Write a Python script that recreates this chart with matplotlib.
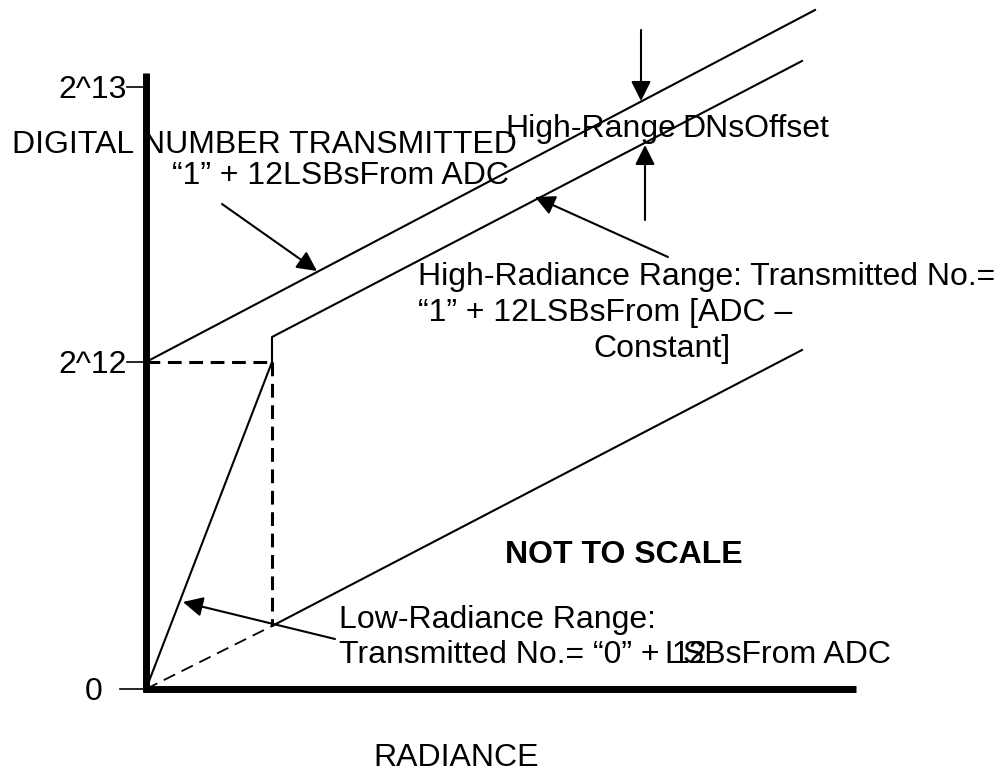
import matplotlib
matplotlib.use("Agg")
import matplotlib.pyplot as plt

# diagram units: pixels measured from the axis corner (x right, y up)
axis_top = 616
axis_right = 710
y_ticks = [0, 327, 602]
y_tick_start = [-26, -19, -19]
y_tick_labels = ["0", "2^12", "2^13"]

# "1" + 12 LSBs from ADC (top line)
upper_x = [0, 669]
upper_y = [327, 679]
# high radiance range: jump at the knee then "ADC - constant"
high_x = [126, 126, 656]
high_y = [327, 352, 628]
# low radiance range (steep)
low_x = [0, 126]
low_y = [0, 327]
# "0" + 12 LSBs from ADC (bottom line), dashed part then solid
base_dash_x = [0, 126]
base_dash_y = [0, 63]
base_x = [126, 656]
base_y = [63, 339]
# guide lines at the knee
guide_h_x = [0, 126]
guide_h_y = [327, 327]
guide_v_x = [126, 126]
guide_v_y = [327, 63]

# arrows: (text end, tip)
arrows = [
    ((76, 485), (171, 418)),
    ((522, 432), (389, 492)),
    ((189, 50), (37, 87)),
    ((495, 659), (495, 588)),
    ((499, 469), (499, 544)),
]

# texts: (x left, y baseline, string)
labels = [
    (-134, 536, "DIGITAL NUMBER TRANSMITTED"),
    (26, 505, "\u201c1\u201d + 12LSBsFrom ADC"),
    (359, 552, "High-Range"),
    (536, 552, "DNsOffset"),
    (272, 404, "High-Radiance Range: Transmitted No.="),
    (272, 368, "\u201c1\u201d + 12LSBsFrom [ADC \u2013"),
    (447, 332, "Constant]"),
    (193, 61, "Low-Radiance Range:"),
    (193, 26, "Transmitted No.= \u201c0\u201d +"),
    (519, 26, "LSBsFrom ADC"),
    (526, 26, "12"),
    (227, -77, "RADIANCE"),
]
fs = 23

plt.rcParams['font.family'] = ['Liberation Sans', 'DejaVu Sans']

fig = plt.figure(figsize=(9.99, 7.72), dpi=100)
ax = fig.add_axes([0, 0, 1, 1])
ax.set_xlim(-146, 853)
ax.set_ylim(-83, 689)
ax.axis('off')

# thick axes
ax.plot([0, 0], [-3, axis_top], color='black', lw=5, solid_capstyle='butt')
ax.plot([-3, axis_right], [0, 0], color='black', lw=5, solid_capstyle='butt')

for yt, xs, lab in zip(y_ticks, y_tick_start, y_tick_labels):
    ax.plot([xs, 0], [yt, yt], color='black', lw=1.2)
    if lab == "0":
        ax.text(-43, yt - 11, lab, fontsize=fs, ha='right', va='baseline')
    else:
        ax.text(xs, yt - 11, lab, fontsize=fs, ha='right', va='baseline')

ax.plot(upper_x, upper_y, color='black', lw=1.5)
ax.plot(high_x, high_y, color='black', lw=1.5)
ax.plot(low_x, low_y, color='black', lw=1.5)
ax.plot(base_x, base_y, color='black', lw=1.5)
ax.plot(base_dash_x, base_dash_y, color='black', lw=1.3, dashes=(7, 4))
ax.plot(guide_h_x, guide_h_y, color='black', lw=2.2, dashes=(4.5, 2.5))
ax.plot(guide_v_x, guide_v_y, color='black', lw=2.2, dashes=(4.5, 2.5))

for start, tip in arrows:
    ax.annotate("", xy=tip, xytext=start,
                arrowprops=dict(arrowstyle='-|>', mutation_scale=30,
                                lw=1.5, color='black', shrinkA=0, shrinkB=0))

for x, y, s in labels:
    ax.text(x, y, s, fontsize=fs, ha='left', va='baseline')

ax.text(597, 126, "NOT TO SCALE", fontsize=fs, fontweight='bold',
        ha='right', va='baseline')

fig.savefig('out.png', dpi=100)
